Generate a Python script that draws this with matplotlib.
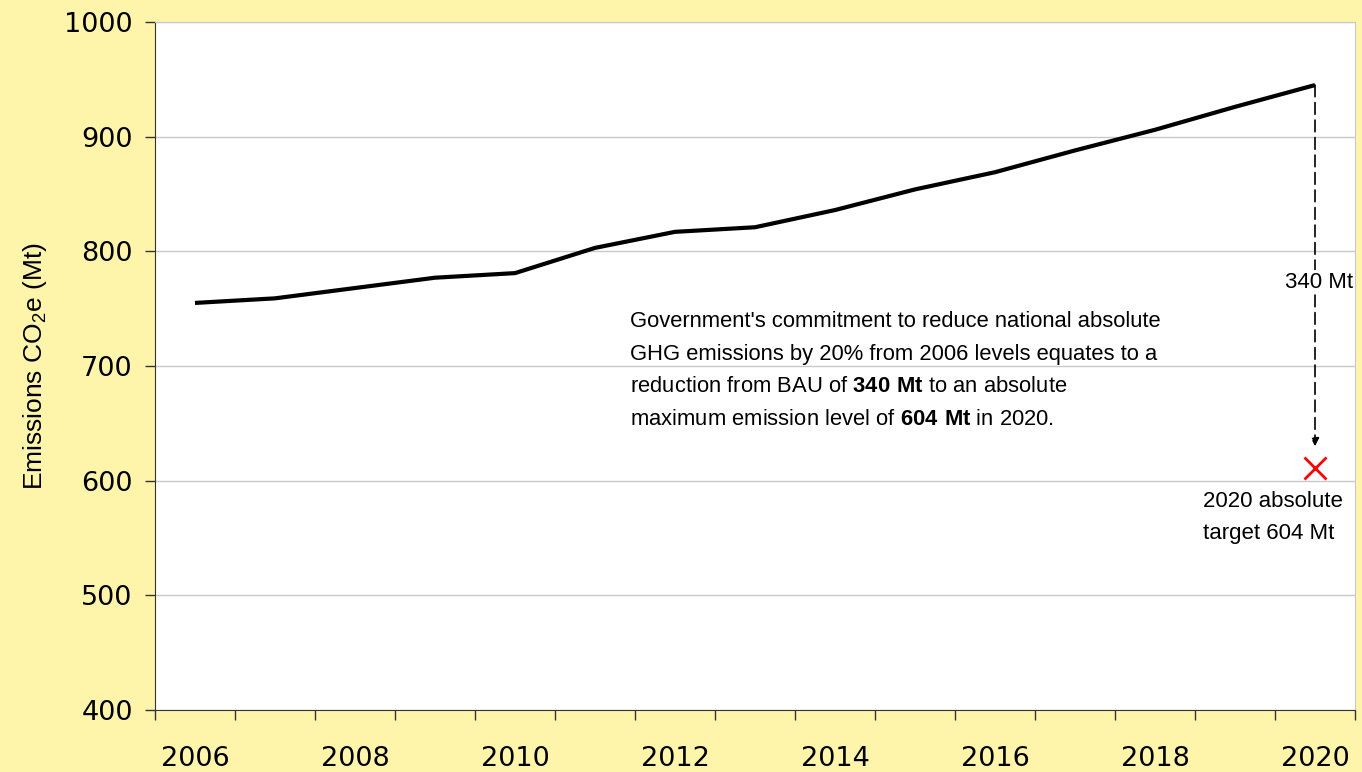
import numpy as np
import matplotlib.pyplot as plt

years = [2006, 2007, 2008, 2009, 2010, 2011, 2012, 2013,
         2014, 2015, 2016, 2017, 2018, 2019, 2020]
bau = [755, 759, 768, 777, 781, 803, 817, 821,
       836, 854, 869, 888, 906, 926, 945]
target_year = 2020
target_mark = 611
arrow_end = 630
gap_label = "340 Mt"
target_label = "2020 absolute\ntarget 604 Mt"
note_lines = [
    "Government's commitment to reduce national absolute",
    "GHG emissions by 20% from 2006 levels equates to a",
    r"reduction from BAU of $\mathbf{340\ Mt}$ to an absolute",
    r"maximum emission level of $\mathbf{604\ Mt}$ in 2020.",
]

plt.rcParams['mathtext.fontset'] = 'custom'
plt.rcParams['mathtext.rm'] = 'Liberation Sans'
plt.rcParams['mathtext.bf'] = 'Liberation Sans:bold'

bg = '#FFF5AA'
fig = plt.figure(figsize=(13.62, 7.72), dpi=100, facecolor=bg)
ax = fig.add_axes([155/1362, 62/772, 1200/1362, 688/772])
ax.set_facecolor('white')

x = np.arange(len(years))
ti = years.index(target_year)

ax.plot(x, bau, color='black', lw=3, solid_capstyle='butt', zorder=3)

# dashed drop from BAU to the target
ax.annotate('', xy=(ti, arrow_end), xytext=(ti, bau[ti]),
            arrowprops=dict(arrowstyle='-|>', color='black', lw=1.2,
                            linestyle=(0, (7, 3.5)), mutation_scale=12,
                            shrinkA=0, shrinkB=0), zorder=2)
ax.text(ti + 0.05, 773, gap_label, ha='center', va='center', fontsize=16,
        family='Liberation Sans',
        bbox=dict(facecolor='white', edgecolor='none', pad=1), zorder=4)
ax.plot([ti], [target_mark], marker='x', color='red', ms=16, mew=2,
        linestyle='none', zorder=4, clip_on=False)
ax.text(ti - 1.4, 591, target_label, ha='left', va='top', fontsize=16,
        family='Liberation Sans', linespacing=1.66)

ax.text(5.44, 696, "\n".join(note_lines), ha='left', va='center',
        fontsize=15.8, family='Liberation Sans', linespacing=1.72)

ax.set_xlim(-0.5, len(years) - 0.5)
ax.set_ylim(400, 1000)
ax.set_yticks(np.arange(400, 1001, 100))
ax.set_xticks(x[::2])
ax.set_xticklabels([str(y) for y in years[::2]])
ax.set_xticks(np.arange(-0.5, len(years), 1), minor=True)
ax.tick_params(axis='x', which='major', length=0, pad=26, labelsize=19.5)
ax.tick_params(axis='x', which='minor', length=7, width=1, color='#333333')
ax.tick_params(axis='y', length=7, width=1, color='#333333', pad=9,
               labelsize=19.5)
ax.yaxis.grid(True, color='#C8C8C8', lw=1)
ax.set_axisbelow(True)

for s in ['top', 'right']:
    ax.spines[s].set_color('#C8C8C8')
for s in ['left', 'bottom']:
    ax.spines[s].set_color('#333333')

ax.set_ylabel("Emissions CO$_2$e (Mt)", fontsize=19, family='Liberation Sans',
              labelpad=11)

fig.savefig('out.png', dpi=100, facecolor=bg)
